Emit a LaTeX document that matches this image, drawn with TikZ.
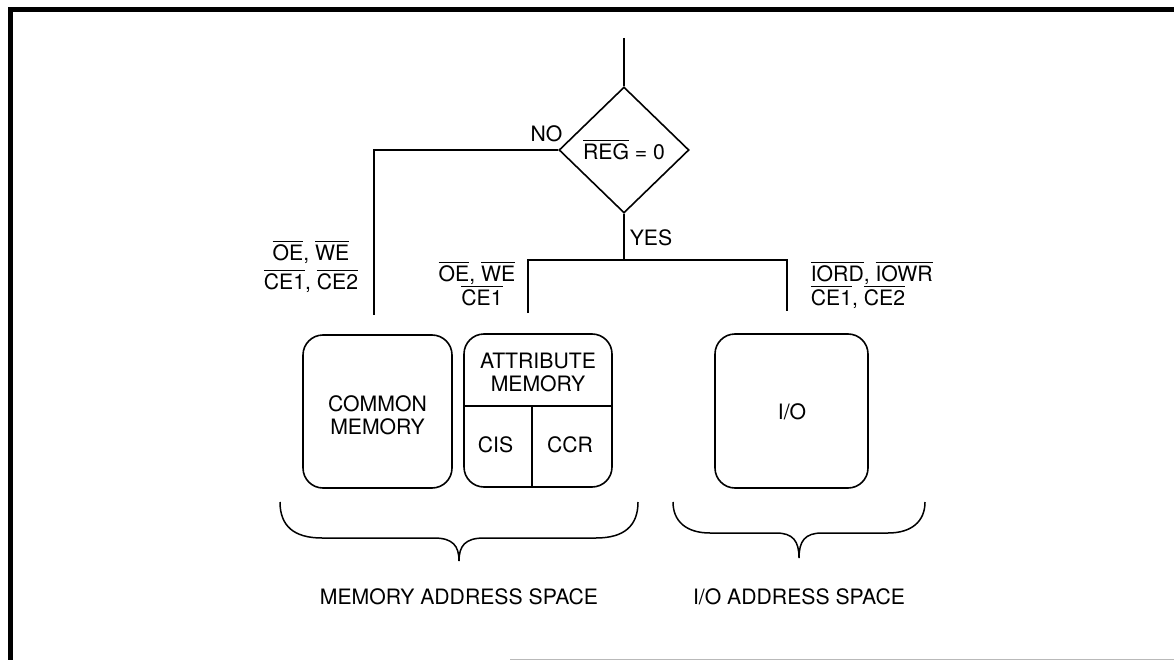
\documentclass[tikz,border=0pt]{standalone}
\usepackage{fontspec}
\setmainfont{TeX Gyre Heros}
\usetikzlibrary{shapes.geometric}
\newcommand\ovl[1]{\leavevmode\vbox{\hrule height 1.1pt\kern 2.2pt\hbox{#1}}}
\lineskiplimit=-100pt
\begin{document}
\begin{tikzpicture}[x=1pt,y=-1pt,line width=1.6pt,line join=miter,
  txt/.style={inner sep=0pt,font=\fontsize{21.2}{23.5}\selectfont},
  mltxt/.style={txt,align=center},
  membox/.style={draw,rounded corners=20pt,inner sep=0pt},
  brace/.style={line width=1.5pt},
  frameline/.style={line width=4.6pt}]
\useasboundingbox (0,0) rectangle (1174,660);
% frame
\draw[frameline] (1174,9.5) -- (10.3,9.5) -- (10.3,660);
\draw[line width=1.5pt,gray!55] (510,659.5) -- (1174,659.5);

% decision
\node[draw,diamond,inner sep=0pt,minimum width=130pt,minimum height=126pt,
      txt] (dec) at (624,150) {\ovl{REG} = 0};
\coordinate (top) at (624,38);
\draw (top) -- (dec.north);
\node[txt,anchor=base] (no) at (546.5,142) {NO};
\node[txt,anchor=base] (yes) at (651,246) {YES};

% connectors
\coordinate (noend) at (374,315);
\coordinate (yj) at (624,260);
\coordinate (yl) at (528,313);
\coordinate (yr) at (787,311);
\draw (dec.west) -| (noend);
\draw (dec.south) -- (yj);
\draw (yl) |- (yj) -| (yr);

% signal labels
\node[txt,anchor=base] (l1a) at (311,260) {\ovl{OE}, \ovl{WE}};
\node[txt,anchor=base] (l1b) at (311,289) {\ovl{CE1}, \ovl{CE2}};
\node[txt,anchor=base] (l2a) at (477,281) {\ovl{OE}, \ovl{WE}};
\node[txt,anchor=base] (l2b) at (482,305) {\ovl{CE1}};
\node[txt,anchor=base west] (l3a) at (810,281) {\ovl{IORD}, \ovl{IOWR}};
\node[txt,anchor=base west] (l3b) at (810,305) {\ovl{CE1}, \ovl{CE2}};

% memory blocks
\node[membox,minimum width=149pt,minimum height=153pt] (common) at (377.5,411.5) {};
\node[mltxt] (commontxt) at (377.5,415.5) {COMMON\\MEMORY};

\node[membox,minimum width=148pt,minimum height=153pt] (attr) at (538,410.5) {};
\node[mltxt] (attrtxt) at (538,372.5) {ATTRIBUTE\\MEMORY};
\draw (attr.west |- 0,406) -- (attr.east |- 0,406);
\draw (532,406) -- (532,487);
\node[txt,anchor=base] (cis) at (495.5,452) {CIS};
\node[txt,anchor=base] (ccr) at (570,452) {CCR};

\node[membox,minimum width=153pt,minimum height=154pt] (io) at (791.5,411) {};
\node[txt,anchor=base] (iotxt) at (792,419.5) {I/O};

% braces
\draw[brace] (280,502) .. controls (280,526) and (294,538) .. (322,538) -- (434,538)
  .. controls (453,538) and (459,546) .. (459,561)
  .. controls (459,546) and (465,538) .. (484,538) -- (596,538)
  .. controls (624,538) and (638,526) .. (638,502);
\draw[brace] (673,502) .. controls (673,521) and (686,533) .. (710,533) -- (776,533)
  .. controls (793,533) and (799,541) .. (799,558)
  .. controls (799,541) and (805,533) .. (822,533) -- (888,533)
  .. controls (912,533) and (925,521) .. (925,502);

\node[txt,anchor=base] (memspace) at (459,604) {MEMORY ADDRESS SPACE};
\node[txt,anchor=base] (iospace) at (799,604) {I/O ADDRESS SPACE};
\end{tikzpicture}
\end{document}
